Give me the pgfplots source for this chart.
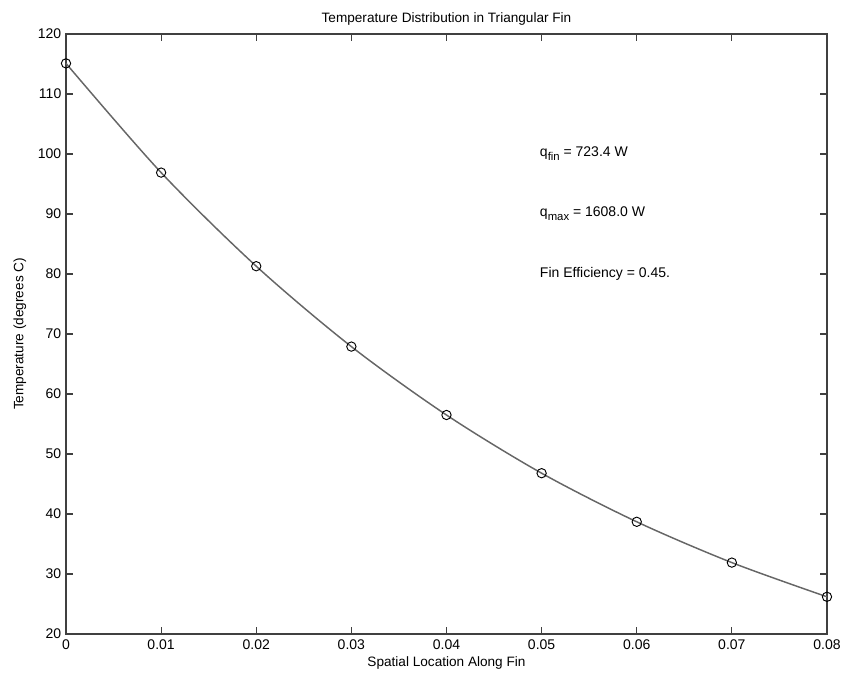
\documentclass[border=0pt]{standalone}
\usepackage{pgfplots}
\pgfplotsset{compat=1.18}
\usepackage{fontspec}
\setmainfont{Liberation Sans}
\definecolor{axgray}{HTML}{404040}
\definecolor{linegray}{HTML}{666666}
\newcommand{\sub}[1]{\raisebox{-0.55ex}{\fontsize{8.5}{10}\selectfont #1}}
\begin{document}
\begin{tikzpicture}
\useasboundingbox (-49.5pt,-33.75pt) rectangle (583.5pt,475.5pt);
\begin{axis}[
    at={(0,0)}, anchor=south west,
    scale only axis,
    width=570.75pt, height=450pt,
    xmin=0, xmax=0.08, ymin=20, ymax=120,
    xtick={0,0.01,0.02,0.03,0.04,0.05,0.06,0.07,0.08},
    xticklabels={0,0.01,0.02,0.03,0.04,0.05,0.06,0.07,0.08},
    scaled ticks=false,
    ytick={20,30,...,120},
    /pgf/number format/assume math mode=true,
    tick align=inside,
    major tick length=5pt,
    axis line style={axgray, line width=0.8pt},
    tick style={axgray, line width=0.8pt},
    every tick label/.append style={font=\fontsize{10.5}{12}\selectfont, text=black},
    xticklabel style={yshift=-1pt},
    title={Temperature Distribution in Triangular Fin},
    title style={font=\fontsize{10.2}{12}\selectfont, yshift=-3pt},
    xlabel={Spatial Location Along Fin},
    ylabel={Temperature (degrees C)},
    label style={font=\fontsize{10.2}{12}\selectfont},
    xlabel style={yshift=2pt},
    ylabel style={yshift=2pt},
    clip=false,
]
\addplot[linegray, line width=1.1pt, smooth, tension=0.5] coordinates {
 (0,115.1) (0.01,96.9) (0.02,81.3) (0.03,67.9) (0.04,56.5)
 (0.05,46.8) (0.06,38.7) (0.07,31.9) (0.08,26.2)};
\addplot[only marks, mark=o, mark size=3.5pt, black, mark options={line width=0.7pt}] coordinates {
 (0,115.1) (0.01,96.9) (0.02,81.3) (0.03,67.9) (0.04,56.5)
 (0.05,46.8) (0.06,38.7) (0.07,31.9) (0.08,26.2)};
\node[anchor=west, font=\fontsize{10.5}{12}\selectfont, inner sep=0pt] at (axis cs:0.0498,100) {q\sub{fin} = 723.4 W};
\node[anchor=west, font=\fontsize{10.5}{12}\selectfont, inner sep=0pt] at (axis cs:0.0498,90) {q\sub{max} = 1608.0 W};
\node[anchor=west, font=\fontsize{10.5}{12}\selectfont, inner sep=0pt] at (axis cs:0.0498,80) {Fin Efficiency = 0.45.};
\end{axis}
\end{tikzpicture}
\end{document}
